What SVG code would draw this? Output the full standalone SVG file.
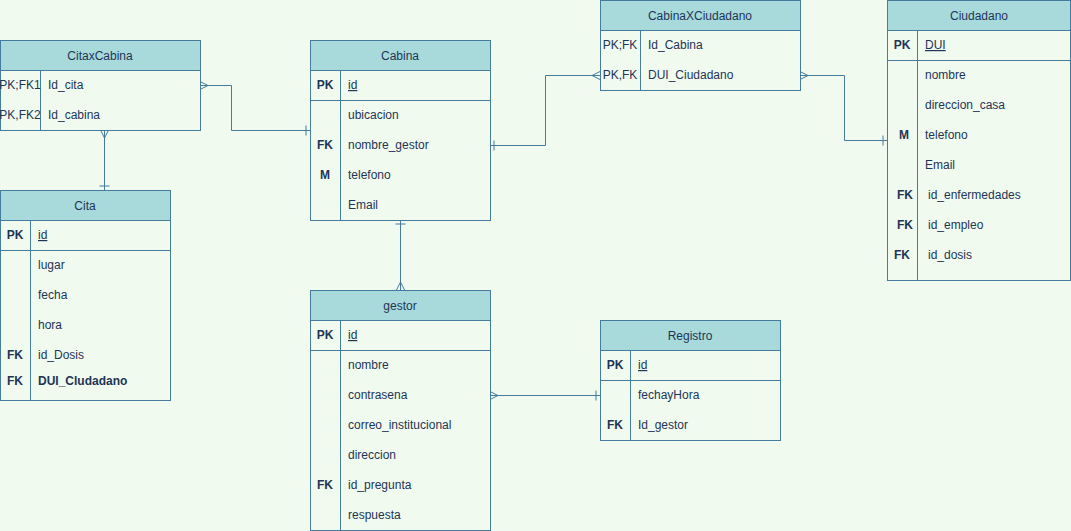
<svg xmlns="http://www.w3.org/2000/svg" width="1071" height="531" viewBox="0 0 1071 531">
<style>
text{font-family:"Liberation Sans",Arial,sans-serif;font-size:12px;fill:#1D3557}
.t{text-anchor:middle}
.k{font-weight:bold;text-anchor:middle}
.kr{text-anchor:middle}
.u{text-decoration:underline}
.b{font-weight:bold}
.box{fill:#F1FAEE;stroke:#457B9D;stroke-width:1}
.hd{fill:#A8DADC;stroke:#457B9D;stroke-width:1}
.ln{fill:none;stroke:#457B9D;stroke-width:1}
.c{fill:none;stroke:#457B9D;stroke-width:1}
</style>
<defs>
<marker id="many" viewBox="-10 -6 12 12" refX="0" refY="0" markerWidth="12" markerHeight="12" markerUnits="userSpaceOnUse" orient="auto-start-reverse">
<path d="M0,-4 L-8,0 L0,4 M-8,0 L0,0" fill="none" stroke="#457B9D" stroke-width="1"/>
</marker>
<marker id="one" viewBox="-10 -6 12 12" refX="0" refY="0" markerWidth="12" markerHeight="12" markerUnits="userSpaceOnUse" orient="auto-start-reverse">
<path d="M-4,-5 L-4,5" fill="none" stroke="#457B9D" stroke-width="1"/>
</marker>
</defs>
<rect width="1071" height="531" fill="#F1FAEE"/>
<g id="connectors">
<path class="c" d="M200,85.5 L231.5,85.5 L231.5,130.5 L310,130.5" marker-start="url(#many)" marker-end="url(#one)"/>
<path class="c" d="M104.5,130 L104.5,190" marker-start="url(#many)" marker-end="url(#one)"/>
<path class="c" d="M490,145.5 L545.5,145.5 L545.5,75.5 L600,75.5" marker-start="url(#one)" marker-end="url(#many)"/>
<path class="c" d="M800,75.5 L844.5,75.5 L844.5,140.5 L887,140.5" marker-start="url(#many)" marker-end="url(#one)"/>
<path class="c" d="M400.5,220 L400.5,290" marker-start="url(#one)" marker-end="url(#many)"/>
<path class="c" d="M490,395.5 L600,395.5" marker-start="url(#many)" marker-end="url(#one)"/>
</g>
<g id="CitaxCabina">
<rect class="box" x="0.5" y="40.5" width="200" height="90"/>
<rect class="hd" x="0.5" y="40.5" width="200" height="30"/>
<text class="t" x="100" y="60">CitaxCabina</text>
<line class="ln" x1="40.5" y1="70.5" x2="40.5" y2="130.5"/>
<text class="kr" x="20" y="89">PK;FK1</text>
<text x="48" y="89">Id_cita</text>
<text class="kr" x="20" y="119">PK,FK2</text>
<text x="48" y="119">Id_cabina</text>
</g>
<g id="Cabina">
<rect class="box" x="310.5" y="40.5" width="180" height="180"/>
<rect class="hd" x="310.5" y="40.5" width="180" height="30"/>
<text class="t" x="400" y="60">Cabina</text>
<line class="ln" x1="310.5" y1="100.5" x2="490.5" y2="100.5"/>
<line class="ln" x1="340.5" y1="70.5" x2="340.5" y2="220.5"/>
<text class="k" x="325" y="89">PK</text>
<text class="u" x="348" y="89">id</text>
<text x="348" y="119">ubicacion</text>
<text class="k" x="325" y="149">FK</text>
<text x="348" y="149">nombre_gestor</text>
<text class="k" x="325" y="179">M</text>
<text x="348" y="179">telefono</text>
<text x="348" y="209">Email</text>
</g>
<g id="CabinaXCiudadano">
<rect class="box" x="600.5" y="0.5" width="200" height="90"/>
<rect class="hd" x="600.5" y="0.5" width="200" height="30"/>
<text class="t" x="700" y="20">CabinaXCiudadano</text>
<line class="ln" x1="640.5" y1="30.5" x2="640.5" y2="90.5"/>
<text class="kr" x="620" y="49">PK;FK</text>
<text x="648" y="49">Id_Cabina</text>
<text class="kr" x="620" y="79">PK,FK</text>
<text x="648" y="79">DUI_Ciudadano</text>
</g>
<g id="Ciudadano">
<rect class="box" x="887.5" y="0.5" width="183" height="280"/>
<rect class="hd" x="887.5" y="0.5" width="183" height="30"/>
<text class="t" x="979" y="20">Ciudadano</text>
<line class="ln" x1="887.5" y1="60.5" x2="1070.5" y2="60.5"/>
<line class="ln" x1="917.5" y1="30.5" x2="917.5" y2="280.5"/>
<text class="k" x="902" y="49">PK</text>
<text class="u" x="925" y="49">DUI</text>
<text x="925" y="79">nombre</text>
<text x="925" y="109">direccion_casa</text>
<text class="k" x="904" y="139">M</text>
<text x="925" y="139">telefono</text>
<text x="925" y="169">Email</text>
<text class="k" x="905" y="199">FK</text>
<text x="928" y="199">id_enfermedades</text>
<text class="k" x="905" y="229">FK</text>
<text x="928" y="229">id_empleo</text>
<text class="k" x="902" y="259">FK</text>
<text x="928" y="259">id_dosis</text>
</g>
<g id="Cita">
<rect class="box" x="0.5" y="190.5" width="170" height="210"/>
<rect class="hd" x="0.5" y="190.5" width="170" height="30"/>
<text class="t" x="85" y="210">Cita</text>
<line class="ln" x1="0.5" y1="250.5" x2="170.5" y2="250.5"/>
<line class="ln" x1="30.5" y1="220.5" x2="30.5" y2="400.5"/>
<text class="k" x="15" y="239">PK</text>
<text class="u" x="38" y="239">id</text>
<text x="38" y="269">lugar</text>
<text x="38" y="299">fecha</text>
<text x="38" y="329">hora</text>
<text class="k" x="15" y="359">FK</text>
<text x="38" y="359">id_Dosis</text>
<text class="k" x="15" y="385">FK</text>
<text class="b" x="38" y="385">DUI_Cludadano</text>
</g>
<g id="gestor">
<rect class="box" x="310.5" y="290.5" width="180" height="240"/>
<rect class="hd" x="310.5" y="290.5" width="180" height="30"/>
<text class="t" x="400" y="310">gestor</text>
<line class="ln" x1="310.5" y1="350.5" x2="490.5" y2="350.5"/>
<line class="ln" x1="340.5" y1="320.5" x2="340.5" y2="530.5"/>
<text class="k" x="325" y="339">PK</text>
<text class="u" x="348" y="339">id</text>
<text x="348" y="369">nombre</text>
<text x="348" y="399">contrasena</text>
<text x="348" y="429">correo_institucional</text>
<text x="348" y="459">direccion</text>
<text class="k" x="325" y="489">FK</text>
<text x="348" y="489">id_pregunta</text>
<text x="348" y="519">respuesta</text>
</g>
<g id="Registro">
<rect class="box" x="600.5" y="320.5" width="180" height="120"/>
<rect class="hd" x="600.5" y="320.5" width="180" height="30"/>
<text class="t" x="690" y="340">Registro</text>
<line class="ln" x1="600.5" y1="380.5" x2="780.5" y2="380.5"/>
<line class="ln" x1="630.5" y1="350.5" x2="630.5" y2="440.5"/>
<text class="k" x="615" y="369">PK</text>
<text class="u" x="638" y="369">id</text>
<text x="638" y="399">fechayHora</text>
<text class="k" x="615" y="429">FK</text>
<text x="638" y="429">Id_gestor</text>
</g>
</svg>
